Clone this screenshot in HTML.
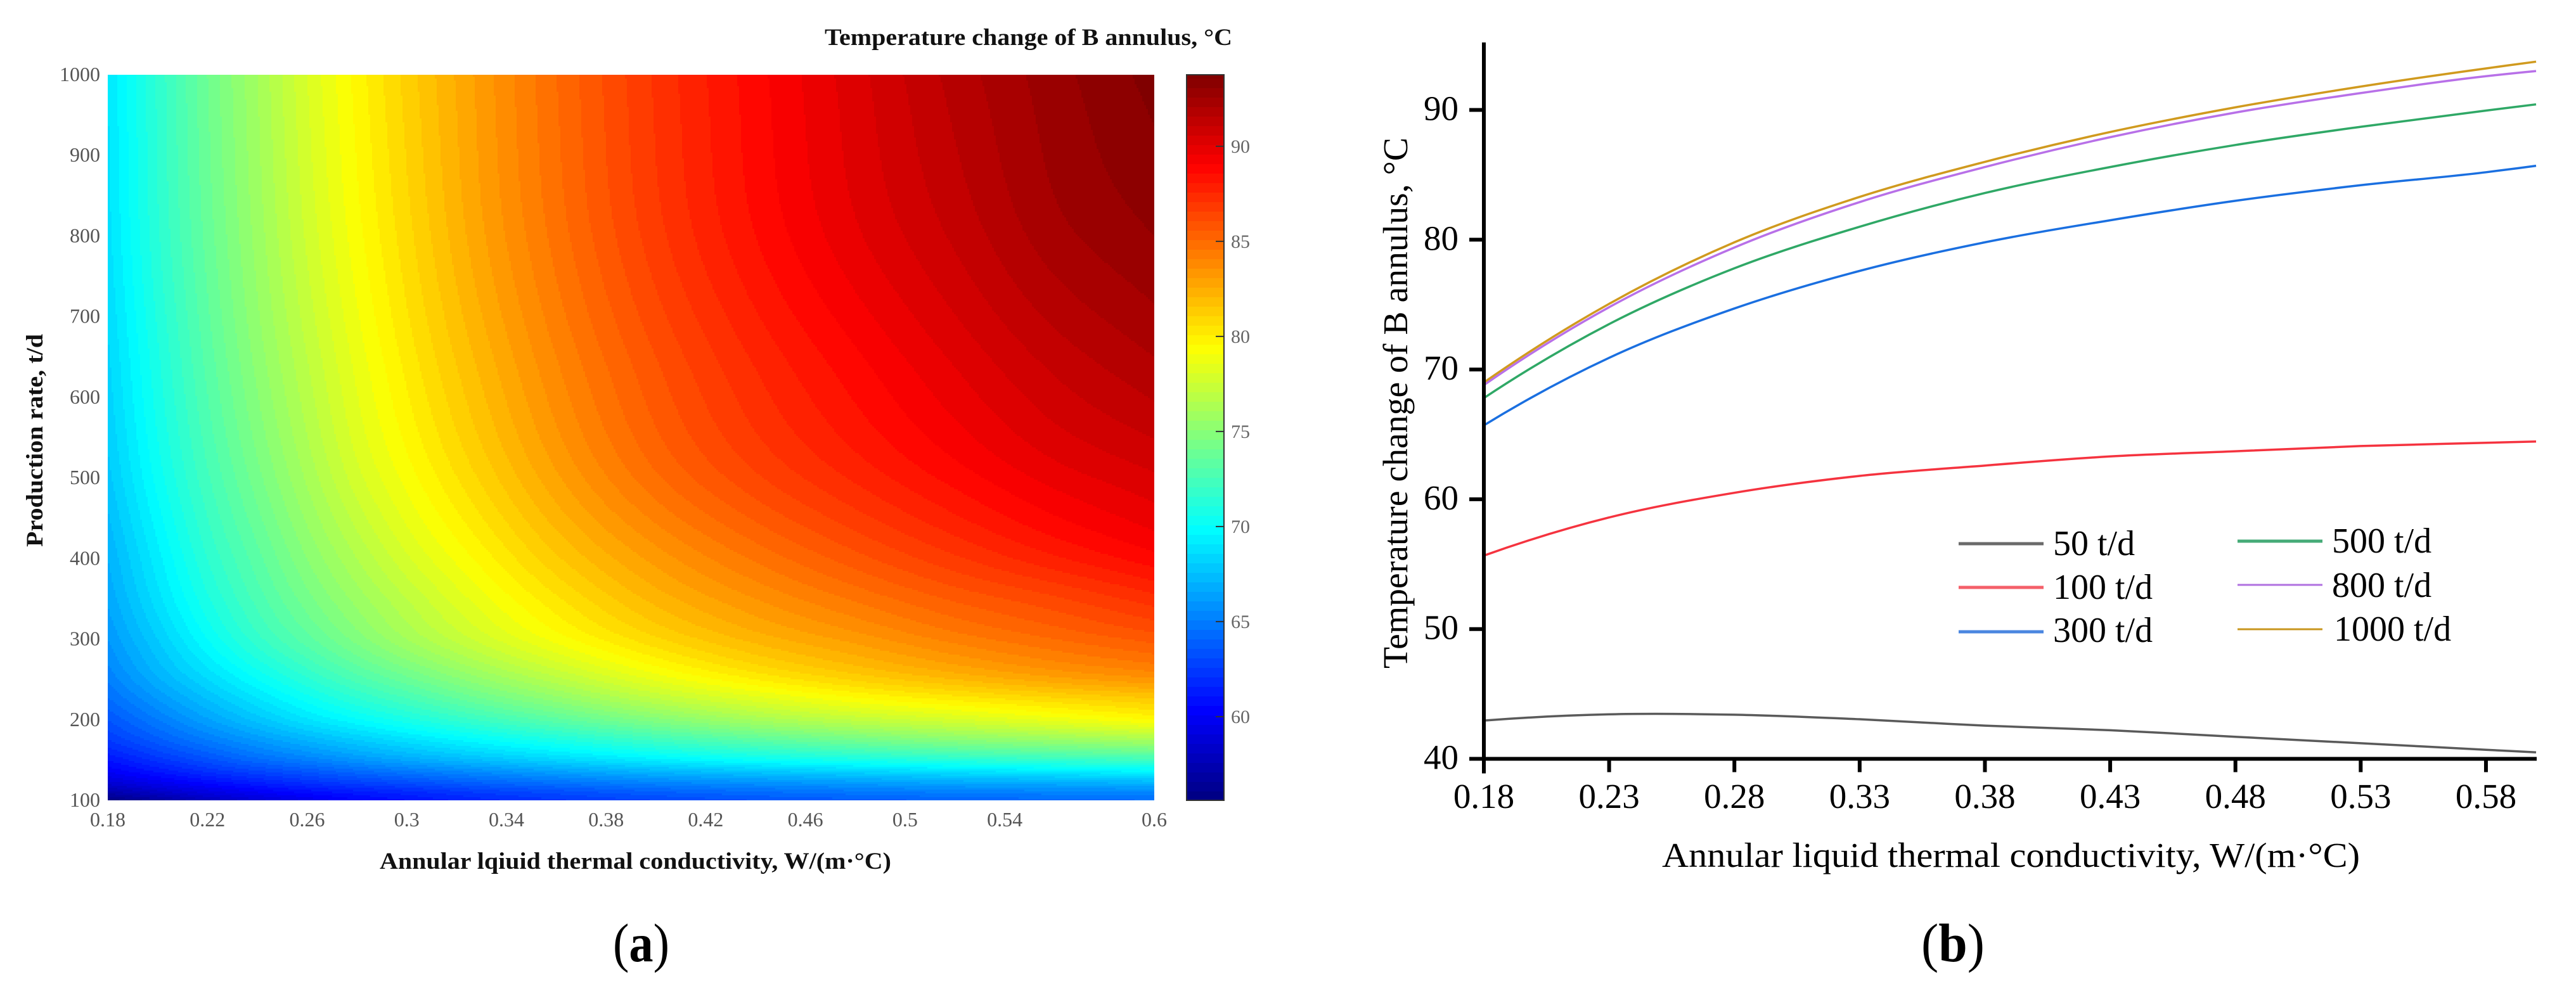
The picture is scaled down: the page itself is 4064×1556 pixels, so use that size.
<!DOCTYPE html>
<html lang="en">
<head>
<meta charset="utf-8">
<title>Temperature change of B annulus</title>
<style>
html,body{margin:0;padding:0;background:#fff;}
body{width:4064px;height:1556px;overflow:hidden;}
svg{display:block;font-family:"Liberation Serif","DejaVu Serif",serif;}
</style>
</head>
<body>
<svg id="figure" xmlns="http://www.w3.org/2000/svg" width="4064" height="1556" viewBox="0 0 4064 1556">
  <rect x="0" y="0" width="4064" height="1556" fill="#ffffff"/>
  <g id="panel-a">
    <g id="heat-bands" shape-rendering="crispEdges"></g>
    <g id="heat-axes"></g>
    <g id="colorbar"></g>
    <text x="1301" y="71" font-size="37" font-weight="bold" fill="#111" textLength="643" lengthAdjust="spacingAndGlyphs">Temperature change of B annulus, °C</text>
    <text x="599" y="1371" font-size="37" font-weight="bold" fill="#111" textLength="807" lengthAdjust="spacingAndGlyphs">Annular lqiuid thermal conductivity, W/(m·°C)</text>
    <text transform="translate(67,863) rotate(-90)" font-size="37" font-weight="bold" fill="#111" textLength="336" lengthAdjust="spacingAndGlyphs">Production rate, t/d</text>
    <text x="967" y="1517" font-size="86" fill="#000" textLength="89" lengthAdjust="spacingAndGlyphs">(<tspan font-weight="bold">a</tspan>)</text>
  </g>
  <g id="panel-b">
    <g id="line-series"></g>
    <g id="line-axes"></g>
    <g id="line-legend"></g>
    <text x="2622" y="1368" font-size="55" fill="#000" textLength="1101" lengthAdjust="spacingAndGlyphs">Annular liquid thermal conductivity, W/(m·°C)</text>
    <text transform="translate(2220,1055) rotate(-90)" font-size="55" fill="#000" textLength="838" lengthAdjust="spacingAndGlyphs">Temperature change of B annulus, °C</text>
    <text x="3031" y="1517" font-size="86" fill="#000" textLength="100" lengthAdjust="spacingAndGlyphs">(<tspan font-weight="bold">b</tspan>)</text>
  </g>
</svg>
<script>
const heatConductivity = [0.18,0.20,0.22,0.24,0.26,0.28,0.30,0.33,0.36,0.40,0.44,0.48,0.52,0.56,0.60];
const heatRates = [100,110,120,135,150,175,200,225,250,300,350,400,500,650,800,1000];
const rate100  = [55.7,56.8,57.9,58.8,59.6,60.4,61.0,61.8,62.4,63.0,63.5,63.8,64.1,64.3,64.5];
const rate110  = [57.2,58.2,59.2,60.0,60.7,61.3,61.8,62.6,63.2,63.9,64.4,64.8,65.1,65.3,65.5];
const rate120  = [58.5,59.5,60.4,61.2,61.9,62.5,63.0,63.8,64.4,65.1,65.6,66.0,66.4,66.6,66.9];
const rate135  = [60.0,61.0,62.0,62.8,63.5,64.2,64.8,65.6,66.3,67.1,67.7,68.2,68.7,69.1,69.5];
const rate150  = [61.0,62.2,63.3,64.3,65.1,65.9,66.6,67.5,68.3,69.3,70.1,70.7,71.3,71.8,72.2];
const rate175  = [62.5,63.8,65.0,66.1,67.1,68.0,68.8,69.9,70.9,72.2,73.3,74.2,75.0,75.6,76.2];
const rate200  = [63.5,65.0,66.4,67.7,68.9,69.9,70.8,72.1,73.3,74.8,76.1,77.1,77.9,78.7,79.5];
const rate225  = [64.4,66.0,67.5,68.9,70.2,71.4,72.4,73.9,75.2,76.9,78.2,79.3,80.1,80.8,81.4];
const rate250  = [65.1,66.9,68.5,70.0,71.4,72.7,73.8,75.4,76.8,78.6,80.0,81.1,82.0,82.8,83.4];
const rate300  = [66.0,68.0,70.0,71.8,73.3,74.7,76.0,77.7,79.2,80.9,82.2,83.2,84.2,85.0,85.7];
const rate350  = [66.6,68.8,70.9,72.7,74.3,75.7,77.0,78.8,80.4,82.2,83.5,84.6,85.6,86.4,87.3];
const rate400  = [67.0,69.3,71.5,73.3,75.0,76.5,77.9,79.7,81.4,83.2,84.6,85.8,86.9,87.9,88.8];
const rate500  = [67.8,70.2,72.4,74.3,76.1,77.8,79.2,81.1,82.9,84.9,86.4,87.6,88.7,89.7,90.4];
const rate650  = [68.4,70.9,73.2,75.2,77.0,78.7,80.2,82.2,84.0,86.0,87.6,88.9,90.1,91.2,92.0];
const rate800  = [68.8,71.4,73.7,75.7,77.6,79.3,80.8,82.9,84.7,86.8,88.5,89.9,91.1,92.3,93.0];
const rate1000 = [69.0,71.6,74.0,76.0,78.0,79.7,81.2,83.2,85.0,87.1,88.8,90.3,91.7,92.8,93.7];
const heatRows = [rate100,rate110,rate120,rate135,rate150,rate175,rate200,rate225,rate250,rate300,rate350,rate400,rate500,rate650,rate800,rate1000];

const heatXTicks = [0.18,0.22,0.26,0.3,0.34,0.38,0.42,0.46,0.5,0.54,0.6];
const heatYTicks = [100,200,300,400,500,600,700,800,900,1000];
const colorbarTicks = [60,65,70,75,80,85,90];
const colorMin = 55.6;
const colorMax = 93.76;
const bandStep = 0.5;

// ---------- Line chart data (panel b) ----------
const lineConductivity = [0.18,0.23,0.28,0.33,0.38,0.43,0.48,0.53,0.58,0.6];
const series50   = [42.95,43.43,43.4,43.05,42.56,42.2,41.7,41.2,40.7,40.5];
const series100  = [55.66,58.6,60.5,61.8,62.6,63.3,63.7,64.1,64.35,64.45];
const series300  = [65.7,70.9,74.7,77.6,79.8,81.5,83.0,84.2,85.2,85.7];
const series500  = [67.8,73.5,77.8,81.0,83.6,85.6,87.3,88.7,89.95,90.43];
const series800  = [68.8,74.8,79.4,82.9,85.6,87.9,89.8,91.3,92.6,93.0];
const series1000 = [69.0,75.06,79.8,83.3,86.0,88.3,90.2,91.8,93.2,93.72];
const lineXTicks = [0.18,0.23,0.28,0.33,0.38,0.43,0.48,0.53,0.58];
const lineYTicks = [40,50,60,70,80,90];
const legendLabels = ["50 t/d","100 t/d","300 t/d","500 t/d","800 t/d","1000 t/d"];

const SVGNS = "http://www.w3.org/2000/svg";
function mk(tag, attrs, parent, text){
  const e = document.createElementNS(SVGNS, tag);
  for (const k in attrs) e.setAttribute(k, attrs[k]);
  if (text !== undefined) e.textContent = text;
  parent.appendChild(e);
  return e;
}

// ---------- Panel a scales ----------
const H = {left:170,right:1821,top:118,bottom:1263};
const hx = k => H.left + (k-0.18)/(0.6-0.18)*(H.right-H.left);
const hy = q => H.bottom - (q-100)/(1000-100)*(H.bottom-H.top);
const hxInv = px => 0.18 + (px-H.left)/(H.right-H.left)*(0.6-0.18);
const hyInv = py => 100 + (H.bottom-py)/(H.bottom-H.top)*(1000-100);
const cbY = v => H.bottom - (v-colorMin)/(colorMax-colorMin)*(H.bottom-H.top);

function jet(t){
  t = Math.max(0,Math.min(1,t));
  const c = v => Math.round(255*Math.max(0,Math.min(1,v)));
  const r = 1.5-Math.abs(4*t-3), g = 1.5-Math.abs(4*t-2), b = 1.5-Math.abs(4*t-1);
  return "rgb("+c(r)+","+c(g)+","+c(b)+")";
}
const colorOf = v => jet((v-colorMin)/(colorMax-colorMin));

// Smooth (cubic Hermite) lookup between the read grid values
function segment(arr, v){
  let i = 0;
  while (i < arr.length-2 && v > arr[i+1]) i++;
  return i;
}
function slopeAt(xs, ys, i){
  const n = xs.length;
  if (i === 0) return (ys[1]-ys[0])/(xs[1]-xs[0]);
  if (i === n-1) return (ys[n-1]-ys[n-2])/(xs[n-1]-xs[n-2]);
  const h0 = xs[i]-xs[i-1], h1 = xs[i+1]-xs[i];
  return ((ys[i]-ys[i-1])/h0*h1 + (ys[i+1]-ys[i])/h1*h0)/(h0+h1);
}
function hermite(xs, ys, i, x){
  const h = xs[i+1]-xs[i];
  const t = Math.max(0,Math.min(1,(x-xs[i])/h));
  const t2 = t*t, t3 = t2*t;
  return (2*t3-3*t2+1)*ys[i] + (t3-2*t2+t)*h*slopeAt(xs,ys,i) +
         (-2*t3+3*t2)*ys[i+1] + (t3-t2)*h*slopeAt(xs,ys,i+1);
}
function columnAt(k){
  const i = segment(heatConductivity,k);
  return heatRows.map(row => hermite(heatConductivity,row,i,k));
}

// ---------- Heatmap bands, one path per colour level ----------
(function(){
  const g = document.getElementById("heat-bands");
  const rowH = 3, colW = 3;
  const columns = [];
  for (let px = H.left; px < H.right; px += colW) columns.push(columnAt(hxInv(px+colW/2)));
  const paths = {};
  for (let py = H.top; py < H.bottom; py += rowH){
    const q = hyInv(py + rowH/2);
    const j = segment(heatRates,q);
    const h = Math.min(rowH, H.bottom-py);
    let runStart = H.left, runLevel = null;
    for (let c = 0; c <= columns.length; c++){
      const px = H.left + c*colW;
      const level = c === columns.length ? null : Math.floor(hermite(heatRates,columns[c],j,q)/bandStep);
      if (level !== runLevel){
        if (runLevel !== null){
          const end = Math.min(px, H.right);
          paths[runLevel] = (paths[runLevel]||"") + "M"+runStart+" "+py+"h"+(end-runStart)+"v"+h+"h"+(runStart-end)+"z";
        }
        runStart = px; runLevel = level;
      }
    }
  }
  Object.keys(paths).map(Number).sort((a,b)=>a-b).forEach(level => {
    const p = mk("path",{d:paths[level],fill:colorOf((level+0.5)*bandStep)},g);
    
    
  });
})();

// ---------- Panel a axes ----------
(function(){
  const g = document.getElementById("heat-axes");
  heatXTicks.forEach(t => {
    const e = mk("text",{x:hx(t),y:1304,"font-size":32,"text-anchor":"middle",fill:"#555"},g,String(t));
    
    
  });
  heatYTicks.forEach(t => {
    const e = mk("text",{x:158,y:hy(t)+10,"font-size":32,"text-anchor":"end",fill:"#555"},g,String(t));
    
    
  });
})();

// ---------- Colorbar ----------
(function(){
  const g = document.getElementById("colorbar");
  const x0 = 1872, x1 = 1931;
  const bands = mk("g",{"shape-rendering":"crispEdges"},g);
  
  
  const nBands = Math.ceil((colorMax-colorMin)/bandStep);
  for (let i = 0; i < nBands; i++){
    const lo = colorMin + i*bandStep, hi = Math.min(colorMax, lo+bandStep);
    const yTop = Math.round(cbY(hi)), yBot = Math.round(cbY(lo));
    const r = mk("rect",{x:x0,y:yTop,width:x1-x0,height:yBot-yTop+1,fill:colorOf((lo+hi)/2)},bands);
    
    
  }
  const frame = mk("rect",{x:x0,y:H.top,width:x1-x0,height:H.bottom-H.top,fill:"none",stroke:"#333","stroke-width":2},g);
  
  
  colorbarTicks.forEach(t => {
    const tick = mk("line",{x1:x1-13,x2:x1,y1:cbY(t),y2:cbY(t),stroke:"#333","stroke-width":2},g);
    
    
    const lab = mk("text",{x:1942,y:cbY(t)+10,"font-size":30,fill:"#666"},g,String(t));
    
    
  });
})();

// ---------- Panel b ----------
const L = {left:2341,right:4001,top:67,bottom:1197.5};
const lx = k => L.left + (k-0.18)/(0.6-0.18)*(L.right-L.left);
const ly = v => L.bottom - (v-40)*20.48;

function smoothPath(xs, ys){
  const P = xs.map((x,i)=>[lx(x),ly(ys[i])]);
  const n = P.length;
  const h = [], s = [];
  for (let i = 0; i < n-1; i++){
    h.push(P[i+1][0]-P[i][0]);
    s.push((P[i+1][1]-P[i][1])/h[i]);
  }
  const m = P.map((p,i)=>{
    if (i === 0) return ((2*h[0]+h[1])*s[0]-h[0]*s[1])/(h[0]+h[1]);
    if (i === n-1) return ((2*h[n-2]+h[n-3])*s[n-2]-h[n-2]*s[n-3])/(h[n-2]+h[n-3]);
    return (s[i-1]*h[i]+s[i]*h[i-1])/(h[i-1]+h[i]);
  });
  let d = "M"+P[0][0].toFixed(1)+" "+P[0][1].toFixed(1);
  for (let i = 0; i < n-1; i++){
    const dx = h[i]/3;
    d += "C"+(P[i][0]+dx).toFixed(1)+" "+(P[i][1]+m[i]*dx).toFixed(1)+" "+
         (P[i+1][0]-dx).toFixed(1)+" "+(P[i+1][1]-m[i+1]*dx).toFixed(1)+" "+
         P[i+1][0].toFixed(1)+" "+P[i+1][1].toFixed(1);
  }
  return d;
}

(function(){
  const g = document.getElementById("line-series");
  const s1 = mk("path",{d:smoothPath(lineConductivity,series50),fill:"none",stroke:"#5a5a5a","stroke-width":3.5},g);
  
  
  const s2 = mk("path",{d:smoothPath(lineConductivity,series100),fill:"none",stroke:"#f5333f","stroke-width":3.5},g);
  
  
  const s3 = mk("path",{d:smoothPath(lineConductivity,series300),fill:"none",stroke:"#1a6fe0","stroke-width":3.5},g);
  
  
  const s4 = mk("path",{d:smoothPath(lineConductivity,series500),fill:"none",stroke:"#2fa866","stroke-width":3.5},g);
  
  
  const s5 = mk("path",{d:smoothPath(lineConductivity,series800),fill:"none",stroke:"#b870e8","stroke-width":3.5},g);
  
  
  const s6 = mk("path",{d:smoothPath(lineConductivity,series1000),fill:"none",stroke:"#d09a1e","stroke-width":3.5},g);
  
  
})();

(function(){
  const g = document.getElementById("line-axes");
  const ya = mk("line",{x1:L.left,x2:L.left,y1:L.top,y2:L.bottom+23,stroke:"#000","stroke-width":6},g);
  
  
  const xa = mk("line",{x1:L.left-23,x2:L.right+1,y1:L.bottom,y2:L.bottom,stroke:"#000","stroke-width":6},g);
  
  
  lineXTicks.forEach(t => {
    const tick = mk("line",{x1:lx(t),x2:lx(t),y1:L.bottom,y2:L.bottom+21,stroke:"#000","stroke-width":6},g);
    
    
    const lab = mk("text",{x:lx(t),y:1275,"font-size":55,"text-anchor":"middle",fill:"#000"},g,t.toFixed(2));
    
    
  });
  lineYTicks.forEach(t => {
    const tick = mk("line",{x1:L.left-23,x2:L.left,y1:ly(t),y2:ly(t),stroke:"#000","stroke-width":6},g);
    
    
    const lab = mk("text",{x:2301,y:ly(t)+16,"font-size":55,"text-anchor":"end",fill:"#000"},g,String(t));
    
    
  });
})();

// ---------- Legend ----------
(function(){
  const g = document.getElementById("line-legend");
  const colors = ["#6a6a6a","#f4606a","#4a86e0","#46ab78","#b070e0","#c8961e"];
  const widths = [5,5,5,5,3,3];
  const lineX = [3090,3090,3090,3530,3530,3530];
  const lineY = [858,927,997,854,923,993];
  const textX = [3239,3239,3239,3679,3679,3682];
  const textY = [876,945,1013,872,942,1011];
  legendLabels.forEach((label,i) => {
    const item = mk("g",{},g);
    
    
    const sw = mk("line",{x1:lineX[i],x2:lineX[i]+134,y1:lineY[i],y2:lineY[i],stroke:colors[i],"stroke-width":widths[i]},item);
    
    
    const t = mk("text",{x:textX[i],y:textY[i],"font-size":56,fill:"#000"},item,label);
    
    
  });
})();
</script>
</body>
</html>
